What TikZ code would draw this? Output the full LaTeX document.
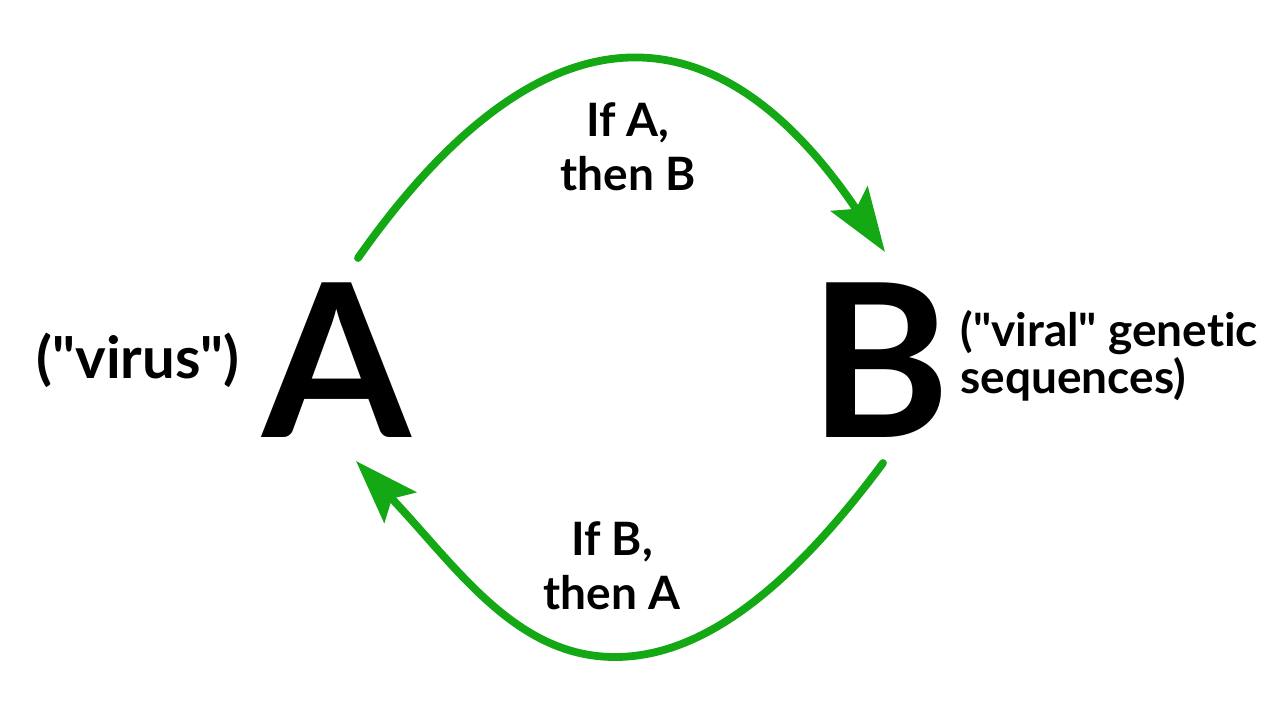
\documentclass[tikz,border=0pt]{standalone}
\usepackage{fontspec}
\setmainfont{Lato}[Ligatures={TeXOff,NoCommon}]
\usetikzlibrary{arrows.meta}
\definecolor{arrowgreen}{RGB}{20,168,20}
\tikzset{
  bigletter/.style={inner sep=0pt, font=\fontsize{107}{110}\selectfont\bfseries},
  leftlabel/.style={inner sep=0pt, font=\fontsize{29}{30}\selectfont\bfseries},
  rightlabel/.style={inner sep=0pt, align=left, font=\fontsize{23}{23.5}\selectfont\bfseries},
  arclabel/.style={inner sep=0pt, align=center, font=\fontsize{23}{27}\selectfont\bfseries},
  greenarc/.style={draw=arrowgreen, line width=3.9pt, line cap=round,
    -{Stealth[length=32pt,width=22pt,inset=6pt]}}
}
\begin{document}
\begin{tikzpicture}[x=0.5pt,y=-0.5pt]
\useasboundingbox (0,0) rectangle (1280,720);
\node[bigletter, anchor=base] (A) at (337,437) {A};
\node[bigletter, anchor=base] (B) at (880,437) {B};
\node[leftlabel, anchor=base east] (va) at (240,378) {("virus")};
\node[rightlabel, anchor=west] (vb) at (960,356) {("viral" genetic\\sequences)};
\node[arclabel] (lab1) at (628,147) {If A,\\then B};
\node[arclabel] (lab2) at (612,566) {If B,\\then A};
\coordinate (s1) at (358,258);
\coordinate (e1) at (885,252);
\coordinate (s2) at (883,463);
\coordinate (p2) at (615,657);
\coordinate (e2) at (356,461);
\draw[greenarc] (s1) .. controls (540,-1) and (715,-1) .. (e1);
\draw[greenarc] (s2) .. controls (793,584) and (705,657) .. (p2)
  .. controls (515,657) and (456,566) .. (e2);
\end{tikzpicture}
\end{document}
